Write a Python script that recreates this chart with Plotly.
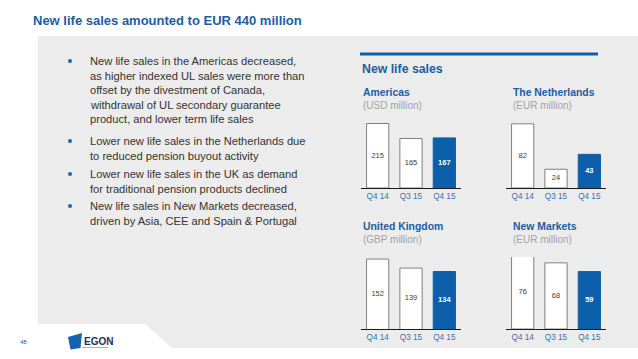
import plotly.graph_objects as go

W, H = 638, 359

# ---------------- data ----------------
categories = ["Q4 14", "Q3 15", "Q4 15"]
americas = [215, 165, 167]
netherlands = [82, 24, 43]
united_kingdom = [152, 139, 134]
new_markets = [76, 68, 59]

title_text = "New life sales amounted to EUR 440 million"
section_title = "New life sales"
bullets = [
    ["New life sales in the Americas decreased,",
     "as higher indexed UL sales were more than",
     "offset by the divestment of Canada,",
     "withdrawal of UL secondary guarantee",
     "product, and lower term life sales"],
    ["Lower new life sales in the Netherlands due",
     "to reduced pension buyout activity"],
    ["Lower new life sales in the UK as demand",
     "for traditional pension products declined"],
    ["New life sales in New Markets decreased,",
     "driven by Asia, CEE and Spain & Portugal"],
]

# ---------------- style ----------------
FONT = "Liberation Sans, Arial, sans-serif"
BLUE = "#0b5fab"
TEXT_BLUE = "#1c5ea4"
TICK_BLUE = "#3a70b0"
GREY_TXT = "#a3a3a3"
BODY = "#333333"
PANEL = "#ececec"


def px(x):
    return x / W


def py(y):
    return 1 - y / H


fig = go.Figure()

panels = [
    # name, unit, values, y-range, x-domain px, y-domain px (top, bottom), title x, title y
    ("Americas", "(USD million)", americas, [0, 240], (361, 461), (116, 188), 361, 92),
    ("The Netherlands", "(EUR million)", netherlands, [0, 92], (506, 606), (116, 188), 511, 92),
    ("United Kingdom", "(GBP million)", united_kingdom, [51, 155], (361, 461), (257, 329), 361, 226),
    ("New Markets", "(EUR million)", new_markets, [0, 74], (506, 606), (257, 329), 511, 226),
]

annotations = []
shapes = []

# grey panel with slanted bottom cut
path = (f"M {px(38)},{py(36)} L {px(638)},{py(36)} L {px(638)},{py(348)} "
        f"L {px(172)},{py(348)} L {px(145)},{py(324)} L {px(38)},{py(324)} Z")
shapes.append(dict(type="path", path=path, xref="paper", yref="paper",
                   fillcolor=PANEL, line=dict(width=0), layer="below"))

# blue rule above section title
shapes.append(dict(type="line", xref="paper", yref="paper",
                   x0=px(360), x1=px(598), y0=py(54), y1=py(54),
                   line=dict(color=BLUE, width=3)))

for i, (name, unit, vals, yr, xd, yd, tx, ty) in enumerate(panels):
    n = "" if i == 0 else str(i + 1)
    fig.add_trace(go.Bar(
        x=categories, y=vals,
        xaxis="x" + n, yaxis="y" + n,
        width=0.667,
        marker=dict(color=["white", "white", BLUE],
                    line=dict(color=["#808080", "#808080", BLUE], width=1)),
        cliponaxis=(yr[0] != 0),
        hoverinfo="x+y", showlegend=False,
    ))
    # value labels centred on the visible part of each bar
    fig.add_trace(go.Scatter(
        x=categories, y=[(yr[0] + v) / 2 for v in vals],
        xaxis="x" + n, yaxis="y" + n,
        mode="text",
        text=[str(vals[0]), str(vals[1]), f"<b>{vals[2]}</b>"],
        textposition="middle center",
        textfont=dict(family=FONT, size=7.5, color=["#3c3c3c", "#3c3c3c", "white"]),
        hoverinfo="skip", showlegend=False,
    ))
    fig.layout["xaxis" + n] = dict(
        domain=[px(xd[0]), px(xd[1])], anchor="y" + n, type="category",
        showgrid=False, zeroline=False, ticks="", showline=True,
        linecolor="#1a1a1a", linewidth=1,
        tickfont=dict(family=FONT, size=8.2, color=TICK_BLUE),
        range=[-0.5, 2.5], fixedrange=True,
    )
    fig.layout["yaxis" + n] = dict(
        domain=[py(yd[1]), py(yd[0])], anchor="x" + n, range=yr,
        visible=False, showgrid=False, zeroline=False, fixedrange=True,
    )
    annotations.append(dict(text=f"<b>{name}</b>", x=px(tx), y=py(ty), xref="paper", yref="paper",
                            xanchor="left", yanchor="middle", showarrow=False,
                            font=dict(family=FONT, size=10.4, color=TEXT_BLUE)))
    annotations.append(dict(text=unit, x=px(tx), y=py(ty + 13), xref="paper", yref="paper",
                            xanchor="left", yanchor="middle", showarrow=False,
                            font=dict(family=FONT, size=10, color=GREY_TXT)))

# title
annotations.append(dict(text=f"<b>{title_text}</b>", x=px(31), y=py(20), xref="paper", yref="paper",
                        xanchor="left", yanchor="middle", showarrow=False,
                        font=dict(family=FONT, size=13, color=TEXT_BLUE)))
# section title
annotations.append(dict(text=f"<b>{section_title}</b>", x=px(360), y=py(68.5), xref="paper", yref="paper",
                        xanchor="left", yanchor="middle", showarrow=False,
                        font=dict(family=FONT, size=12.3, color=TEXT_BLUE)))

# bullets
starts = [61, 141, 174, 206]
LS = 14.6
for lines, y0 in zip(bullets, starts):
    shapes.append(dict(type="rect", xref="paper", yref="paper",
                       x0=px(68.3), x1=px(71.7), y0=py(y0 + 1.7), y1=py(y0 - 1.7),
                       fillcolor=BLUE, line=dict(width=0)))
    for k, line in enumerate(lines):
        annotations.append(dict(text=line, x=px(87.5), y=py(y0 + k * LS), xref="paper", yref="paper",
                                xanchor="left", yanchor="middle", showarrow=False,
                                font=dict(family=FONT, size=11.15, color=BODY)))

# footer: page number and logo
annotations.append(dict(text="48", x=px(23.5), y=py(341.5), xref="paper", yref="paper",
                        xanchor="center", yanchor="middle", showarrow=False,
                        font=dict(family=FONT, size=6, color=BLUE)))
shapes.append(dict(type="path", xref="paper", yref="paper",
                   path=(f"M {px(68)},{py(337)} L {px(82)},{py(333)} L {px(80.5)},{py(348)} "
                         f"L {px(70.5)},{py(349.5)} Z"),
                   fillcolor="#1462b4", line=dict(width=0)))
annotations.append(dict(text="<b>EGON</b>", x=px(81.5), y=py(341), xref="paper", yref="paper",
                        xanchor="left", yanchor="middle", showarrow=False,
                        font=dict(family=FONT, size=10, color="#1b2e5c")))
shapes.append(dict(type="line", xref="paper", yref="paper",
                   x0=px(82), x1=px(108), y0=py(347.5), y1=py(347.5),
                   line=dict(color="#9a9a9a", width=0.8)))

fig.update_layout(
    width=W, height=H, autosize=False,
    margin=dict(l=0, r=0, t=0, b=0),
    paper_bgcolor="white", plot_bgcolor="rgba(0,0,0,0)",
    barmode="overlay",
    annotations=annotations, shapes=shapes,
    font=dict(family=FONT),
)

fig.write_html("out.html", config={"displayModeBar": False},
               post_script="document.body.style.margin='0';document.body.style.overflow='hidden';")
